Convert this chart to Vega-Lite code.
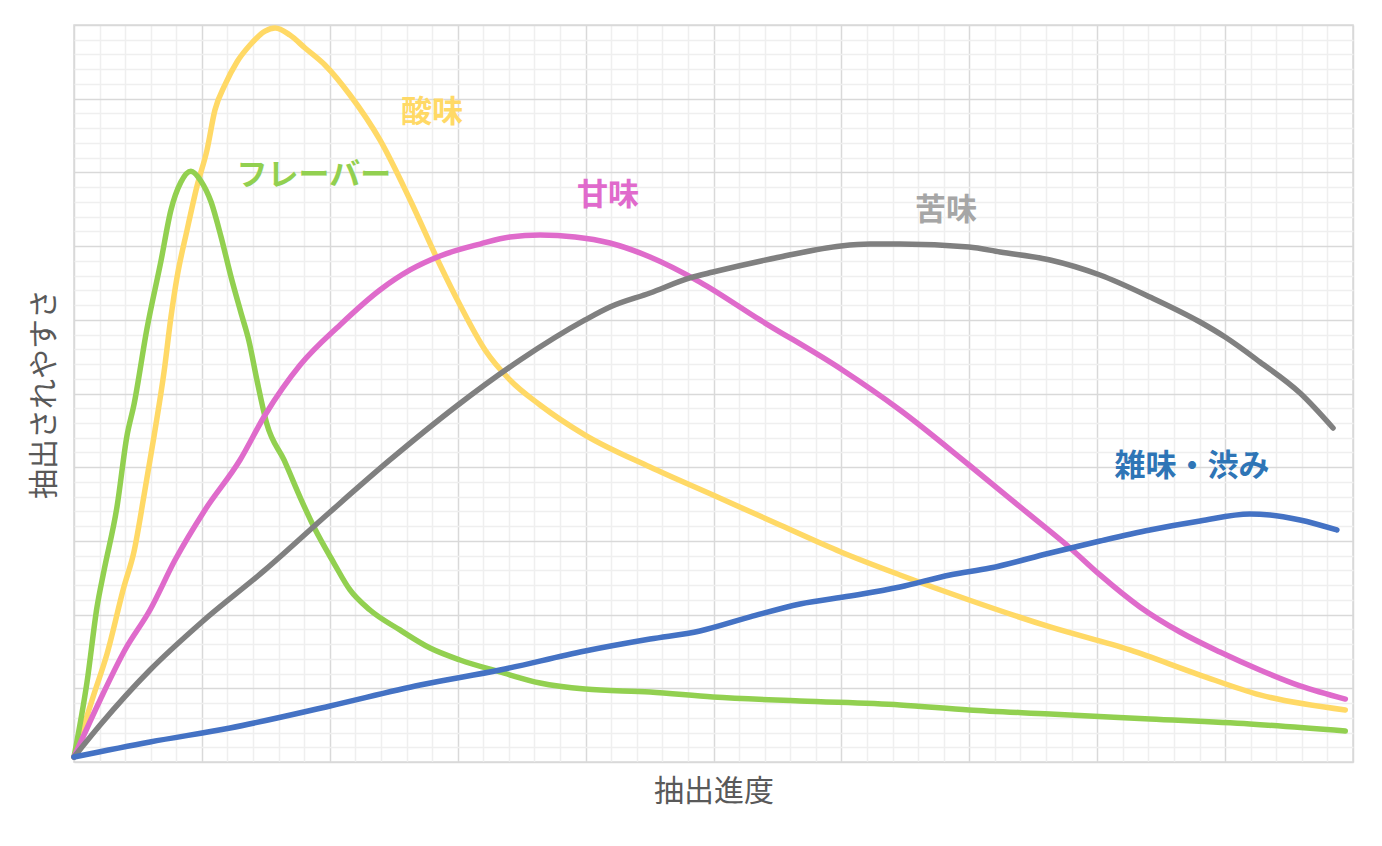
{
  "$schema": "https://vega.github.io/schema/vega-lite/v6.json",
  "width": 1279,
  "height": 737,
  "autosize": "none",
  "padding": {"left": 74, "top": 25, "right": 29, "bottom": 84},
  "background": "white",
  "config": {
    "view": {"stroke": "#d9d9d9", "strokeWidth": 1.5},
    "font": "Noto Sans CJK JP"
  },
  "datasets": {
    "curves": [
      {"s": "酸味", "x": 0, "y": 0.34},
      {"s": "酸味", "x": 0.78, "y": 4.61},
      {"s": "酸味", "x": 1.29, "y": 7.33},
      {"s": "酸味", "x": 1.95, "y": 11.87},
      {"s": "酸味", "x": 2.35, "y": 14.31},
      {"s": "酸味", "x": 2.74, "y": 18.11},
      {"s": "酸味", "x": 3.13, "y": 22.12},
      {"s": "酸味", "x": 3.52, "y": 26.46},
      {"s": "酸味", "x": 3.79, "y": 30.19},
      {"s": "酸味", "x": 4.03, "y": 32.9},
      {"s": "酸味", "x": 4.42, "y": 36.09},
      {"s": "酸味", "x": 4.81, "y": 39.08},
      {"s": "酸味", "x": 5.2, "y": 41.52},
      {"s": "酸味", "x": 5.51, "y": 44.23},
      {"s": "酸味", "x": 5.9, "y": 45.93},
      {"s": "酸味", "x": 6.37, "y": 47.49},
      {"s": "酸味", "x": 6.88, "y": 48.64},
      {"s": "酸味", "x": 7.47, "y": 49.59},
      {"s": "酸味", "x": 7.86, "y": 49.8},
      {"s": "酸味", "x": 8.44, "y": 49.32},
      {"s": "酸味", "x": 9.03, "y": 48.44},
      {"s": "酸味", "x": 9.81, "y": 47.29},
      {"s": "酸味", "x": 10.79, "y": 45.25},
      {"s": "酸味", "x": 11.96, "y": 42.2},
      {"s": "酸味", "x": 13.14, "y": 38.13},
      {"s": "酸味", "x": 14.31, "y": 33.72},
      {"s": "酸味", "x": 15.09, "y": 31.0},
      {"s": "酸味", "x": 16.07, "y": 27.95},
      {"s": "酸味", "x": 17.04, "y": 25.92},
      {"s": "酸味", "x": 18.22, "y": 24.22},
      {"s": "酸味", "x": 19.98, "y": 22.18},
      {"s": "酸味", "x": 22.52, "y": 20.01},
      {"s": "酸味", "x": 24.98, "y": 18.11},
      {"s": "酸味", "x": 27.6, "y": 16.08},
      {"s": "酸味", "x": 29.98, "y": 14.25},
      {"s": "酸味", "x": 32.29, "y": 12.69},
      {"s": "酸味", "x": 34.99, "y": 10.99},
      {"s": "酸味", "x": 38.16, "y": 9.16},
      {"s": "酸味", "x": 41.28, "y": 7.6},
      {"s": "酸味", "x": 44.02, "y": 5.9},
      {"s": "酸味", "x": 46.36, "y": 4.55},
      {"s": "酸味", "x": 49.7, "y": 3.53},

      {"s": "フレーバー", "x": 0, "y": 0.34},
      {"s": "フレーバー", "x": 0.51, "y": 5.43},
      {"s": "フレーバー", "x": 0.9, "y": 10.52},
      {"s": "フレーバー", "x": 1.17, "y": 12.96},
      {"s": "フレーバー", "x": 1.68, "y": 17.3},
      {"s": "フレーバー", "x": 2.07, "y": 22.12},
      {"s": "フレーバー", "x": 2.35, "y": 24.29},
      {"s": "フレーバー", "x": 2.85, "y": 29.38},
      {"s": "フレーバー", "x": 3.4, "y": 33.99},
      {"s": "フレーバー", "x": 3.79, "y": 37.45},
      {"s": "フレーバー", "x": 4.18, "y": 39.35},
      {"s": "フレーバー", "x": 4.57, "y": 40.08},
      {"s": "フレーバー", "x": 4.96, "y": 39.42},
      {"s": "フレーバー", "x": 5.36, "y": 37.99},
      {"s": "フレーバー", "x": 5.75, "y": 35.62},
      {"s": "フレーバー", "x": 6.14, "y": 32.9},
      {"s": "フレーバー", "x": 6.53, "y": 30.46},
      {"s": "フレーバー", "x": 6.84, "y": 28.56},
      {"s": "フレーバー", "x": 7.15, "y": 25.92},
      {"s": "フレーバー", "x": 7.54, "y": 22.93},
      {"s": "フレーバー", "x": 8.21, "y": 20.49},
      {"s": "フレーバー", "x": 8.87, "y": 17.84},
      {"s": "フレーバー", "x": 9.38, "y": 15.94},
      {"s": "フレーバー", "x": 10.16, "y": 13.5},
      {"s": "フレーバー", "x": 10.79, "y": 11.67},
      {"s": "フレーバー", "x": 11.57, "y": 10.31},
      {"s": "フレーバー", "x": 12.74, "y": 8.96},
      {"s": "フレーバー", "x": 13.92, "y": 7.73},
      {"s": "フレーバー", "x": 15.09, "y": 6.92},
      {"s": "フレーバー", "x": 16.65, "y": 6.11},
      {"s": "フレーバー", "x": 18.22, "y": 5.36},
      {"s": "フレーバー", "x": 19.98, "y": 4.95},
      {"s": "フレーバー", "x": 22.52, "y": 4.75},
      {"s": "フレーバー", "x": 24.98, "y": 4.41},
      {"s": "フレーバー", "x": 28.38, "y": 4.14},
      {"s": "フレーバー", "x": 32.29, "y": 3.87},
      {"s": "フレーバー", "x": 34.99, "y": 3.53},
      {"s": "フレーバー", "x": 38.16, "y": 3.26},
      {"s": "フレーバー", "x": 42.06, "y": 2.92},
      {"s": "フレーバー", "x": 45.97, "y": 2.58},
      {"s": "フレーバー", "x": 49.7, "y": 2.1},

      {"s": "甘味", "x": 0, "y": 0.34},
      {"s": "甘味", "x": 1.02, "y": 4.21},
      {"s": "甘味", "x": 1.99, "y": 7.6},
      {"s": "甘味", "x": 2.97, "y": 10.31},
      {"s": "甘味", "x": 3.95, "y": 13.7},
      {"s": "甘味", "x": 5.12, "y": 17.1},
      {"s": "甘味", "x": 6.49, "y": 20.49},
      {"s": "甘味", "x": 7.47, "y": 23.54},
      {"s": "甘味", "x": 8.84, "y": 26.93},
      {"s": "甘味", "x": 10.4, "y": 29.65},
      {"s": "甘味", "x": 11.96, "y": 32.02},
      {"s": "甘味", "x": 13.14, "y": 33.38},
      {"s": "甘味", "x": 14.31, "y": 34.33},
      {"s": "甘味", "x": 15.87, "y": 35.14},
      {"s": "甘味", "x": 17.04, "y": 35.62},
      {"s": "甘味", "x": 18.22, "y": 35.75},
      {"s": "甘味", "x": 19.59, "y": 35.62},
      {"s": "甘味", "x": 20.95, "y": 35.21},
      {"s": "甘味", "x": 22.52, "y": 34.26},
      {"s": "甘味", "x": 24.47, "y": 32.56},
      {"s": "甘味", "x": 26.82, "y": 29.99},
      {"s": "甘味", "x": 29.98, "y": 26.66},
      {"s": "甘味", "x": 32.29, "y": 23.88},
      {"s": "甘味", "x": 34.99, "y": 20.15},
      {"s": "甘味", "x": 37.37, "y": 16.76},
      {"s": "甘味", "x": 38.94, "y": 14.52},
      {"s": "甘味", "x": 40.11, "y": 12.69},
      {"s": "甘味", "x": 41.67, "y": 10.52},
      {"s": "甘味", "x": 43.24, "y": 8.82},
      {"s": "甘味", "x": 44.8, "y": 7.46},
      {"s": "甘味", "x": 46.36, "y": 6.24},
      {"s": "甘味", "x": 47.93, "y": 5.16},
      {"s": "甘味", "x": 49.7, "y": 4.27},

      {"s": "苦味", "x": 0, "y": 0.34},
      {"s": "苦味", "x": 1.02, "y": 2.51},
      {"s": "苦味", "x": 2.97, "y": 6.24},
      {"s": "苦味", "x": 5.0, "y": 9.5},
      {"s": "苦味", "x": 7.47, "y": 13.03},
      {"s": "苦味", "x": 10.01, "y": 16.96},
      {"s": "苦味", "x": 12.35, "y": 20.49},
      {"s": "苦味", "x": 15.01, "y": 24.22},
      {"s": "苦味", "x": 17.44, "y": 27.27},
      {"s": "苦味", "x": 19.98, "y": 29.99},
      {"s": "苦味", "x": 20.95, "y": 30.87},
      {"s": "苦味", "x": 22.52, "y": 31.82},
      {"s": "苦味", "x": 24.08, "y": 32.84},
      {"s": "苦味", "x": 24.98, "y": 33.24},
      {"s": "苦味", "x": 27.6, "y": 34.26},
      {"s": "苦味", "x": 29.98, "y": 35.01},
      {"s": "苦味", "x": 31.12, "y": 35.14},
      {"s": "苦味", "x": 32.29, "y": 35.14},
      {"s": "苦味", "x": 34.99, "y": 34.94},
      {"s": "苦味", "x": 36.2, "y": 34.6},
      {"s": "苦味", "x": 38.16, "y": 34.06},
      {"s": "苦味", "x": 40.11, "y": 33.04},
      {"s": "苦味", "x": 42.06, "y": 31.55},
      {"s": "苦味", "x": 44.02, "y": 29.85},
      {"s": "苦味", "x": 45.0, "y": 28.83},
      {"s": "苦味", "x": 46.36, "y": 27.14},
      {"s": "苦味", "x": 47.93, "y": 25.03},
      {"s": "苦味", "x": 49.22, "y": 22.66},

      {"s": "雑味・渋み", "x": 0, "y": 0.34},
      {"s": "雑味・渋み", "x": 2.97, "y": 1.36},
      {"s": "雑味・渋み", "x": 6.1, "y": 2.31},
      {"s": "雑味・渋み", "x": 10.01, "y": 3.8},
      {"s": "雑味・渋み", "x": 13.53, "y": 5.22},
      {"s": "雑味・渋み", "x": 16.65, "y": 6.24},
      {"s": "雑味・渋み", "x": 19.98, "y": 7.53},
      {"s": "雑味・渋み", "x": 22.52, "y": 8.34},
      {"s": "雑味・渋み", "x": 24.47, "y": 8.89},
      {"s": "雑味・渋み", "x": 26.43, "y": 9.84},
      {"s": "雑味・渋み", "x": 28.38, "y": 10.72},
      {"s": "雑味・渋み", "x": 30.34, "y": 11.26},
      {"s": "雑味・渋み", "x": 32.29, "y": 11.87},
      {"s": "雑味・渋み", "x": 34.24, "y": 12.69},
      {"s": "雑味・渋み", "x": 35.81, "y": 13.16},
      {"s": "雑味・渋み", "x": 38.16, "y": 14.18},
      {"s": "雑味・渋み", "x": 40.11, "y": 14.99},
      {"s": "雑味・渋み", "x": 42.06, "y": 15.74},
      {"s": "雑味・渋み", "x": 44.02, "y": 16.35},
      {"s": "雑味・渋み", "x": 45.97, "y": 16.82},
      {"s": "雑味・渋み", "x": 46.76, "y": 16.76},
      {"s": "雑味・渋み", "x": 47.93, "y": 16.42},
      {"s": "雑味・渋み", "x": 49.37, "y": 15.74}
    ],
    "labels": [
      {"s": "酸味", "x": 14.0, "y": 44.03},
      {"s": "フレーバー", "x": 9.38, "y": 39.76},
      {"s": "甘味", "x": 20.88, "y": 38.4},
      {"s": "苦味", "x": 34.09, "y": 37.38},
      {"s": "雑味・渋み", "x": 43.71, "y": 20.01}
    ]
  },
  "layer": [
    {
      "data": {"name": "curves"},
      "mark": {"type": "line", "strokeWidth": 5.5, "strokeCap": "round", "strokeJoin": "round", "interpolate": "monotone"},
      "encoding": {
        "x": {
          "field": "x", "type": "quantitative",
          "scale": {"domain": [0, 50], "nice": false, "zero": false},
          "axis": {
            "values": [0,1,2,3,4,5,6,7,8,9,10,11,12,13,14,15,16,17,18,19,20,21,22,23,24,25,26,27,28,29,30,31,32,33,34,35,36,37,38,39,40,41,42,43,44,45,46,47,48,49,50],
            "tickCount": 100,
            "labels": false, "ticks": false, "domain": false, "grid": true,
            "gridColor": {"condition": {"test": "datum.value % 5 === 0", "value": "#d9d9d9"}, "value": "#efefef"},
            "gridWidth": 1.5,
            "title": "抽出進度", "titleFont": "Noto Sans CJK JP", "titleFontSize": 30, "titleFontWeight": "normal",
            "titleColor": "#595959", "titlePadding": 14
          }
        },
        "y": {
          "field": "y", "type": "quantitative",
          "scale": {"domain": [0, 50], "nice": false, "zero": false},
          "axis": {
            "values": [0,1,2,3,4,5,6,7,8,9,10,11,12,13,14,15,16,17,18,19,20,21,22,23,24,25,26,27,28,29,30,31,32,33,34,35,36,37,38,39,40,41,42,43,44,45,46,47,48,49,50],
            "tickCount": 100,
            "labels": false, "ticks": false, "domain": false, "grid": true,
            "gridColor": {"condition": {"test": "datum.value % 5 === 0", "value": "#d9d9d9"}, "value": "#efefef"},
            "gridWidth": 1.5,
            "title": "抽出されやすさ", "titleFont": "Noto Sans CJK JP", "titleFontSize": 30, "titleFontWeight": "normal",
            "titleColor": "#595959", "titlePadding": 15
          }
        },
        "color": {
          "field": "s", "type": "nominal",
          "scale": {"domain": ["酸味", "フレーバー", "甘味", "苦味", "雑味・渋み"], "range": ["#FFD966", "#92D050", "#DF6BCB", "#808080", "#4472C4"]},
          "legend": null
        }
      }
    },
    {
      "data": {"name": "labels"},
      "mark": {"type": "text", "font": "Noto Sans CJK JP", "fontSize": 31, "fontWeight": "bold", "align": "center", "baseline": "middle"},
      "encoding": {
        "x": {"field": "x", "type": "quantitative"},
        "y": {"field": "y", "type": "quantitative"},
        "text": {"field": "s", "type": "nominal"},
        "color": {
          "field": "s", "type": "nominal",
          "scale": {"domain": ["酸味", "フレーバー", "甘味", "苦味", "雑味・渋み"], "range": ["#FFD966", "#92D050", "#E06ACC", "#A6A6A6", "#2E75B6"]},
          "legend": null
        }
      }
    }
  ],
  "resolve": {"scale": {"color": "independent"}}
}
